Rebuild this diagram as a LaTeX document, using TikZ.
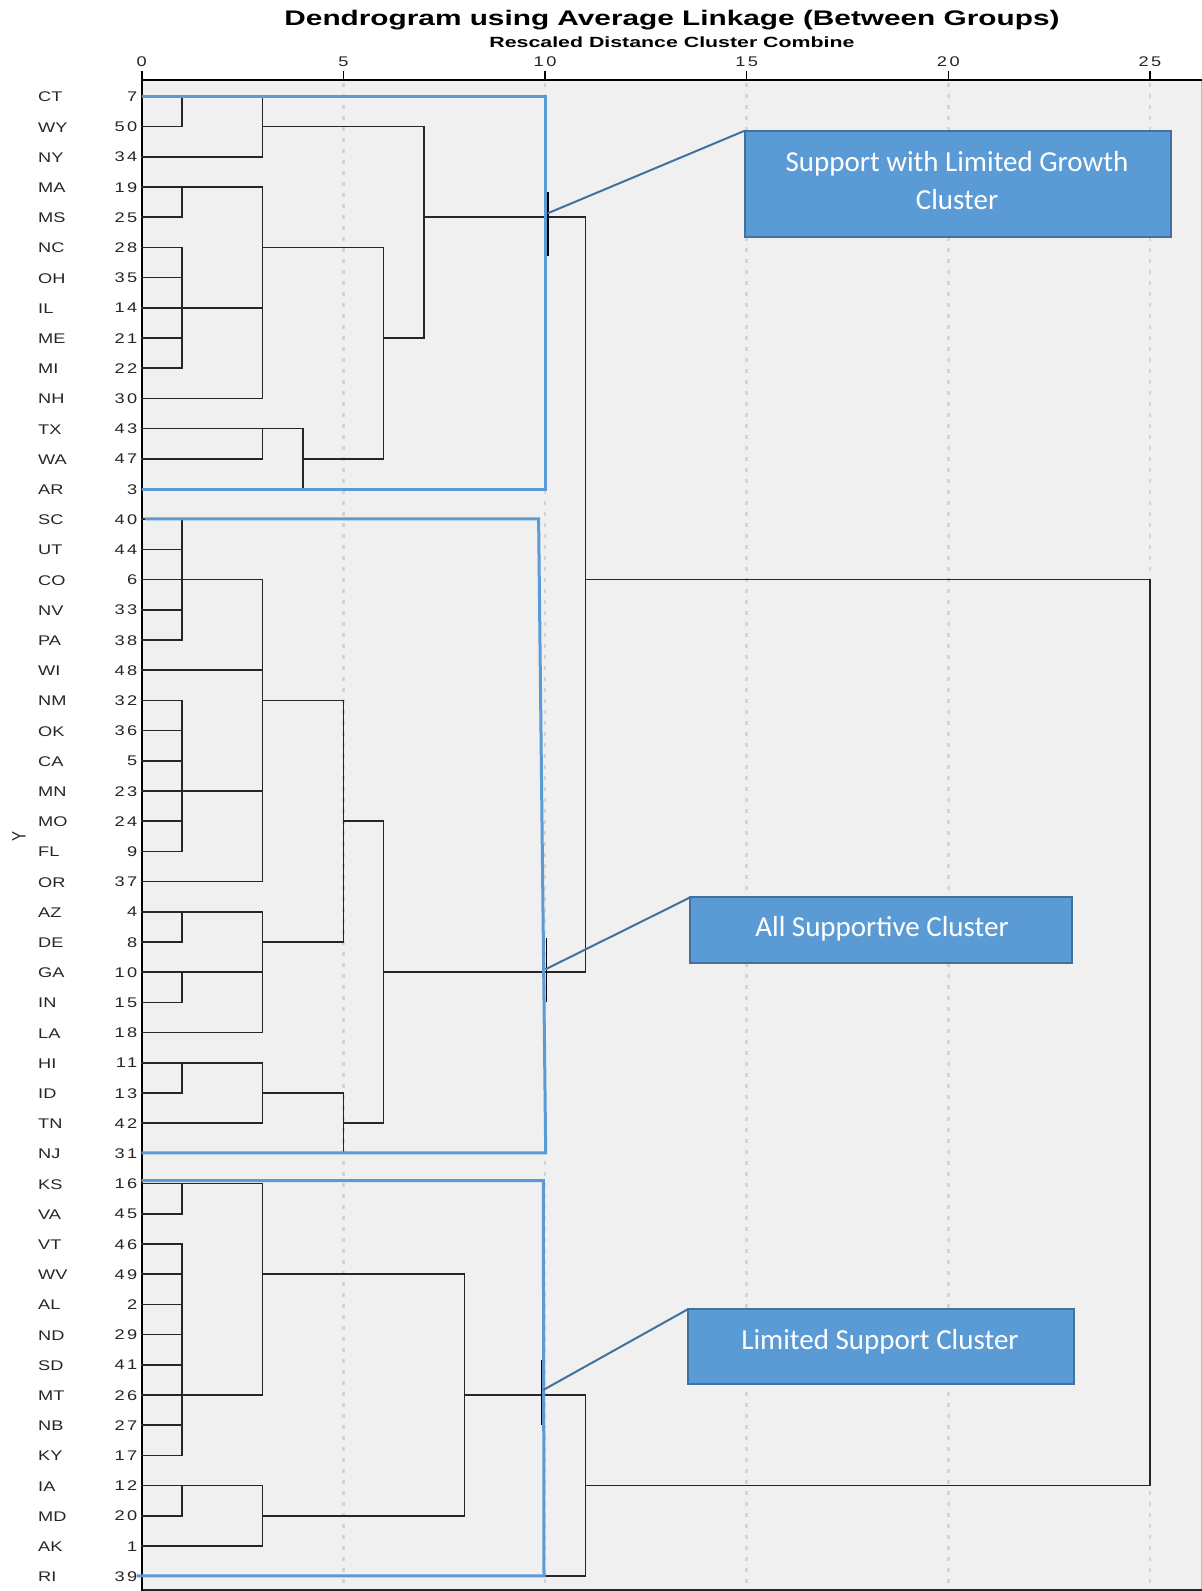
\documentclass[tikz,border=0pt]{standalone}
\usepackage{fontspec}
\usepackage{graphicx}
\setmainfont{Liberation Sans}
\newfontfamily\calfont{Carlito}
\newfontfamily\numfont[LetterSpace=14]{Liberation Sans}
\definecolor{panelc}{HTML}{F0F0F0}
\definecolor{clblue}{HTML}{5B9BD5}
\definecolor{clborder}{HTML}{41719C}
\definecolor{gridc}{HTML}{D4D4D4}
\definecolor{linec}{HTML}{262626}
\definecolor{labc}{HTML}{262626}
\newcommand{\dendH}[3]{\draw[dl] (#2,#1) -- (#3,#1);}
\newcommand{\dendV}[3]{\draw[dl] (#1,#2) -- (#1,#3);}
\tikzset{
  dl/.style={draw=linec, line width=1.6pt, line cap=rect},
  bluebox/.style={draw=clblue, line width=3pt, line join=miter},
  callbox/.style={draw=clborder, fill=clblue, line width=2pt, inner sep=0pt, outer sep=0pt},
  calltext/.style={text=white, align=center, inner sep=0pt, font=\calfont\fontsize{29pt}{37.3pt}\selectfont},
  leader/.style={draw=clborder, line width=2pt},
  accent/.style={draw=black, line width=1.6pt},
  statelab/.style={anchor=base west, inner sep=0pt, text=labc, font=\fontsize{14pt}{16pt}\selectfont},
  numlab/.style={anchor=base east, inner sep=0pt, text=labc, font=\numfont\fontsize{14pt}{16pt}\selectfont},
  ticklab/.style={anchor=base, inner sep=0pt, text=labc, font=\numfont\fontsize{14pt}{16pt}\selectfont},
}
\begin{document}
\begin{tikzpicture}[x=1pt,y=-1pt]
\useasboundingbox (0,0) rectangle (1202,1591);
\fill[white] (0,0) rectangle (1202,1591);
% panel
\fill[panelc] (141.7,80) rectangle (1202,1591);
\foreach \dd in {5,10,...,25}
  \draw[gridc, line width=2.5pt, dash pattern=on 3.5pt off 7.5pt] ({141.7+40.33*\dd},83) -- ({141.7+40.33*\dd},1591);
\draw[gray!50, line width=1pt] (1201.5,80) -- (1201.5,1591);
\draw[linec, line width=1.6pt] (141.7,1590) -- (1202,1590);
\draw[black, line width=1.3pt] (141.7,80) -- (1202,80);
\foreach \dd in {0,5,...,25} {
  \draw[black, line width=1.5pt] ({141.7+40.33*\dd},71) -- ({141.7+40.33*\dd},80);
  \node[ticklab] (t\dd) at ({141.7+40.33*\dd},66) {\scalebox{1.3}[1]{\dd}};
}
\draw[black, line width=2.2pt] (141.7,71) -- (141.7,1591);
% titles
\node[anchor=base, inner sep=0pt] (title) at (672,25.7) {\resizebox{775pt}{15.3pt}{\bfseries Dendrogram using Average Linkage (Between Groups)}};
\node[anchor=base, inner sep=0pt] (subtitle) at (672,47.3) {\resizebox{365pt}{10.7pt}{\bfseries Rescaled Distance Cluster Combine}};
\node[rotate=90, inner sep=0pt, text=labc, font=\fontsize{15pt}{16pt}\selectfont] (ylab) at (19,836) {\scalebox{1}[1.3]{Y}};
% leaf labels
\foreach [count=\i from 0] \s/\n in {CT/7,WY/50,NY/34,MA/19,MS/25,NC/28,OH/35,IL/14,ME/21,MI/22,NH/30,TX/43,WA/47,AR/3,SC/40,UT/44,CO/6,NV/33,PA/38,WI/48,NM/32,OK/36,CA/5,MN/23,MO/24,FL/9,OR/37,AZ/4,DE/8,GA/10,IN/15,LA/18,HI/11,ID/13,TN/42,NJ/31,KS/16,VA/45,VT/46,WV/49,AL/2,ND/29,SD/41,MT/26,NB/27,KY/17,IA/12,MD/20,AK/1,RI/39} {
  \node[statelab] (s\i) at (38,{96.4+30.2*\i+5.5}) {\scalebox{1.3}[1]{\s}};
  \node[numlab] (n\i) at (137.5,{96.4+30.2*\i+5}) {\scalebox{1.3}[1]{\n}};
}
% dendrogram
\begin{scope}[shift={(141.7pt,-96.4pt)}, x=40.33pt, y=-30.2pt]
\foreach \r/\t in {0/3,1/1,2/3,3/3,4/1,5/1,6/1,7/3,8/1,9/1,10/3,11/4,12/3,13/4,
  14/1,15/1,16/3,17/1,18/1,19/3,20/1,21/1,22/1,23/3,24/1,25/1,26/3,27/3,28/1,29/3,30/1,31/3,32/3,33/1,34/3,35/5,
  36/3,37/1,38/1,39/1,40/1,41/1,42/1,43/3,44/1,45/1,46/3,47/1,48/3,49/11}
  {\dendH{\r}{0}{\t}}
\foreach \r/\a/\b in {1/3/7,5/3/6,12/4/6,8/6/7,4/7/11,16/11/25,
  20/3/5,28/3/5,24/5/6,33/3/5,34/5/6,29/6/11,
  39/3/8,47/3/8,43/8/11,46/11/25}
  {\dendH{\r}{\a}{\b}}
\foreach \xx/\a/\b in {1/0/1,3/0/2,1/3/4,1/5/9,3/3/10,3/11/12,4/11/13,6/5/12,7/1/8,11/4/29,
  1/14/18,1/20/25,3/16/26,1/27/28,1/29/30,3/27/31,5/20/28,1/32/33,3/32/34,5/33/35,6/24/34,
  1/36/37,1/38/45,3/36/43,1/46/47,3/46/48,8/39/47,11/43/49,25/16/46}
  {\dendV{\xx}{\a}{\b}}
\end{scope}
% cluster outlines
\draw[bluebox] (141.7,96.4) -- (545,96.4) -- (545,489) -- (141.7,489);
\draw[bluebox] (145,518.8) -- (538.6,518.8) -- (545.7,1152.8) -- (141.7,1152.8);
\draw[bluebox] (141.7,1180.5) -- (543.3,1180.5) -- (544,1575.8) -- (137,1575.8);
% callouts
\draw[accent] (547.7,191.7) -- (547.7,256);
\draw[accent] (546.5,938) -- (546.5,1002);
\draw[accent] (541.5,1360) -- (541.5,1425);
\node[callbox, minimum width=426.5pt, minimum height=106pt] (cb1) at (958,183.7) {};
\node[calltext] (ct1) at (957,180.5) {Support with Limited Growth\\Cluster};
\node[callbox, minimum width=381.7pt, minimum height=65.4pt] (cb2) at (881.2,930) {};
\node[calltext, anchor=base] (ct2) at (882,936) {All Supportive Cluster};
\node[callbox, minimum width=385.4pt, minimum height=74.7pt] (cb3) at (880.9,1346.4) {};
\node[calltext, anchor=base] (ct3) at (880,1349.3) {Limited Support Cluster};
\coordinate (p1) at (547.7,213.3);
\coordinate (p2) at (545.5,969.3);
\coordinate (p3) at (543.2,1390);
\draw[leader] (cb1.north west) -- (p1);
\draw[leader] (cb2.north west) -- (p2);
\draw[leader] (cb3.north west) -- (p3);
\end{tikzpicture}
\end{document}
